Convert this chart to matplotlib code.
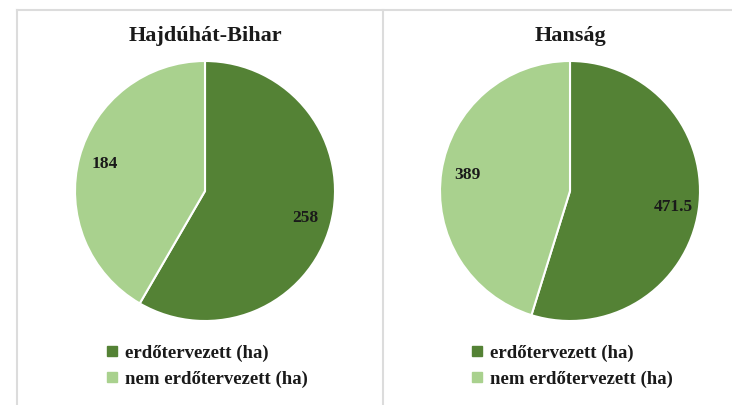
import matplotlib
matplotlib.use("Agg")
import matplotlib.pyplot as plt
from matplotlib.lines import Line2D

# data
regions = ["Hajdúhát-Bihar", "Hanság"]
categories = ["erdőtervezett (ha)", "nem erdőtervezett (ha)"]
erdotervezett = [258, 471.5]
nem_erdotervezett = [184, 389]
colors = ["#548235", "#A9D18E"]

plt.rcParams["font.family"] = ["Liberation Serif", "DejaVu Serif"]

W, H = 732, 405
fig = plt.figure(figsize=(W / 100, H / 100), dpi=100)
fig.patch.set_facecolor("white")

# panel borders (cropped chart frames)
border = "#dcdcdc"
y_top = 1 - 9.5 / H
fig.add_artist(Line2D([16.5 / W, 1], [y_top, y_top], color=border, lw=1.5))
for xp in (16.5, 382.5):
    fig.add_artist(Line2D([xp / W, xp / W], [0, y_top], color=border, lw=1.5))

centers_x = [205, 570]
cy, r = 191, 130

for i, name in enumerate(regions):
    vals = [erdotervezett[i], nem_erdotervezett[i]]
    cx = centers_x[i]
    ax = fig.add_axes([(cx - r) / W, (H - cy - r) / H, 2 * r / W, 2 * r / H])
    total = sum(vals)
    wedges, _, autotexts = ax.pie(
        vals, colors=colors, startangle=90, counterclock=False,
        autopct=lambda p, t=total: f"{p * t / 100:g}",
        pctdistance=0.8,
        wedgeprops={"edgecolor": "white", "linewidth": 1.5},
        textprops={"fontsize": 12.5, "fontweight": "bold", "color": "#1a1a1a"},
    )
    ax.set_xlim(-1, 1)
    ax.set_ylim(-1, 1)
    ax.set_aspect("equal")
    fig.text(cx / W, 1 - 36 / H, name, ha="center", va="center",
             fontsize=16, fontweight="bold", color="#1a1a1a")
    handles = [Line2D([], [], marker="s", ls="", color=c, markersize=6.5) for c in colors]
    fig.legend(handles, categories, loc="center left",
               bbox_to_anchor=((cx - 98) / W, 1 - 366 / H),
               frameon=False, handlelength=0.5, handletextpad=0.45,
               labelspacing=0.45, borderpad=0, borderaxespad=0,
               prop={"size": 13.5, "weight": "bold"}, labelcolor="#1a1a1a")

fig.savefig("out.png", dpi=100, facecolor="white")
